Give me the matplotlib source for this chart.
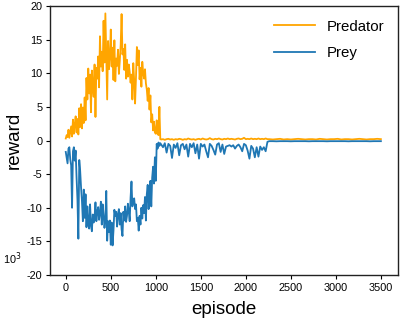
import numpy as np
import matplotlib
matplotlib.use("Agg")
import matplotlib.pyplot as plt

plt.rcParams['font.family'] = ['Liberation Sans', 'DejaVu Sans']
plt.rcParams['axes.unicode_minus'] = False

# episode grids (x positions of the sampled points)
ep_a = np.arange(0, 1051, 10)
ep_b = np.arange(1060, 2241, 20)
ep_c = np.arange(2260, 3501, 40)

predator_a = [
    0.3, 0.8, 0.5, 1.6, 0.4, 1.2, 2.1, 0.6, 3.1, 1.0, 2.4,
    3.6, 1.2, 3.2, 0.9, 4.8, 2.0, 5.4, 1.8, 4.9, 2.6,
    6.4, 3.0, 9.3, 6.1, 10.7, 7.0, 9.8, 4.2, 10.4, 8.0,
    6.5, 11.3, 3.5, 10.8, 9.2, 12.5, 7.9, 15.5, 11.0, 13.2,
    10.3, 17.8, 11.6, 18.9, 12.5, 6.1, 14.8, 10.6, 12.4, 16.5,
    11.0, 13.8, 9.0, 14.9, 8.8, 12.2, 11.1, 13.5, 9.9, 11.8,
    14.2, 18.8, 12.8, 13.6, 10.5, 14.3, 9.2, 12.0, 9.5, 11.3,
    10.2, 8.6, 9.8, 6.1, 11.5, 8.9, 5.5, 9.4, 13.9, 11.2,
    13.4, 9.1, 10.8, 8.0, 11.7, 10.1, 9.2, 10.6, 8.5, 7.6,
    5.9, 7.8, 4.6, 6.7, 2.7, 3.9, 1.5, 2.8, 1.2, 1.0,
    3.0, 1.0, 0.8, 5.0, 0.2,
]
prey_a = [
    -1.7, -2.5, -3.4, -1.2, -1.0, -2.8, -3.7, -10.0, -1.6, -1.0, -3.0,
    -1.5, -5.5, -8.8, -14.6, -2.9, -4.5, -7.0, -9.0, -12.0, -7.3,
    -11.5, -8.0, -12.9, -9.8, -12.3, -13.1, -9.5, -12.6, -13.5, -11.0,
    -12.2, -11.4, -9.2, -12.0, -10.6, -9.9, -11.8, -10.8, -9.1, -12.5,
    -9.5, -11.0, -13.0, -11.8, -7.5, -14.9, -12.0, -13.6, -11.9, -15.5,
    -12.2, -15.6, -13.4, -10.3, -11.2, -10.6, -12.8, -11.0, -10.2, -12.5,
    -10.8, -13.2, -14.2, -10.6, -11.9, -9.8, -12.1, -11.2, -9.4, -10.6,
    -12.0, -8.5, -6.1, -9.8, -8.8, -8.6, -10.2, -9.5, -12.0, -11.5,
    -13.4, -11.2, -12.5, -10.0, -11.6, -9.6, -10.8, -8.4, -11.9, -8.0,
    -6.6, -10.2, -7.9, -6.0, -9.8, -5.5, -3.9, -6.4, -2.5, -6.0,
    -0.5, -1.2, -0.3, -0.8, -0.4,
]
predator_b = [
    0.15, 0.2, 0.1, 0.2, 0.25, 0.15, 0.2, 0.1, 0.2, 0.15,
    0.25, 0.2, 0.1, 0.2, 0.15, 0.3, 0.2, 0.15, 0.2, 0.1,
    0.2, 0.25, 0.15, 0.3, 0.2, 0.15, 0.2, 0.35, 0.2, 0.15,
    0.25, 0.2, 0.3, 0.2, 0.15, 0.25, 0.2, 0.3, 0.2, 0.25,
    0.2, 0.15, 0.25, 0.3, 0.2, 0.25, 0.4, 0.2, 0.25, 0.2,
    0.3, 0.2, 0.25, 0.2, 0.3, 0.2, 0.25, 0.2, 0.3, 0.2,
]
prey_b = [
    -0.6, -1.0, -0.4, -1.8, -0.5, -0.8, -2.6, -0.6, -1.1, -0.4,
    -2.2, -0.7, -0.5, -1.3, -0.6, -2.4, -0.5, -1.0, -0.4, -1.9,
    -0.6, -2.7, -0.5, -0.9, -0.6, -1.6, -2.5, -0.5, -0.8, -1.4,
    -2.1, -0.6, -0.4, -1.7, -0.6, -2.0, -0.9, -0.8, -0.7, -0.9,
    -0.7, -1.2, -0.8, -0.6, -1.0, -1.6, -0.5, -0.7, -1.5, -2.7,
    -0.8, -1.2, -2.5, -1.0, -2.4, -0.9, -1.4, -1.0, -1.6, -0.2,
]
predator_c = [
    0.2, 0.15, 0.2, 0.25, 0.15, 0.2, 0.15, 0.2, 0.25, 0.2,
    0.15, 0.2, 0.2, 0.15, 0.25, 0.2, 0.15, 0.2, 0.2, 0.25,
    0.15, 0.2, 0.2, 0.15, 0.2, 0.25, 0.2, 0.15, 0.2, 0.2,
    0.25, 0.2,
]
prey_c = [
    -0.1, -0.1, -0.12, -0.1, -0.1, -0.1, -0.12, -0.1, -0.1, -0.1,
    -0.1, -0.12, -0.1, -0.1, -0.1, -0.1, -0.12, -0.1, -0.1, -0.1,
    -0.1, -0.1, -0.12, -0.1, -0.1, -0.1, -0.1, -0.1, -0.12, -0.1,
    -0.1, -0.1,
]

episodes = np.concatenate([ep_a, ep_b, ep_c])
predator = np.concatenate([predator_a, predator_b, predator_c])
prey = np.concatenate([prey_a, prey_b, prey_c])

xticks = [0, 500, 1000, 1500, 2000, 2500, 3000, 3500]
yticks = [-20, -15, -10, -5, 0, 5, 10, 15, 20]

fig = plt.figure(figsize=(4.03, 3.19), dpi=100)
ax = fig.add_axes([50 / 403, 44 / 319, 348 / 403, 269 / 319])

ax.plot(episodes, predator, color='#FFA500', lw=1.3, label='Predator')
ax.plot(episodes, prey, color='#1f77b4', lw=1.3, label='Prey')

ax.set_xlim(-175, 3690)
ax.set_ylim(-20, 20)
ax.set_xticks(xticks)
ax.set_yticks(yticks)
ax.tick_params(labelsize=7.8, length=3, width=0.8, pad=2.5)
for s in ax.spines.values():
    s.set_linewidth(1.0)
    s.set_color('#222222')

ax.set_xlabel('episode', fontsize=13.5, labelpad=6)
ax.set_ylabel('reward', fontsize=13.5, labelpad=3)

ax.text(-0.135, 0.06, r'10$^3$', transform=ax.transAxes, fontsize=7.8,
        ha='left', va='center')

leg = ax.legend(loc='upper right', frameon=False, fontsize=10.8,
                handlelength=2.7, handletextpad=0.8, labelspacing=0.85,
                borderaxespad=0.5)

fig.savefig('out.png', dpi=100)
